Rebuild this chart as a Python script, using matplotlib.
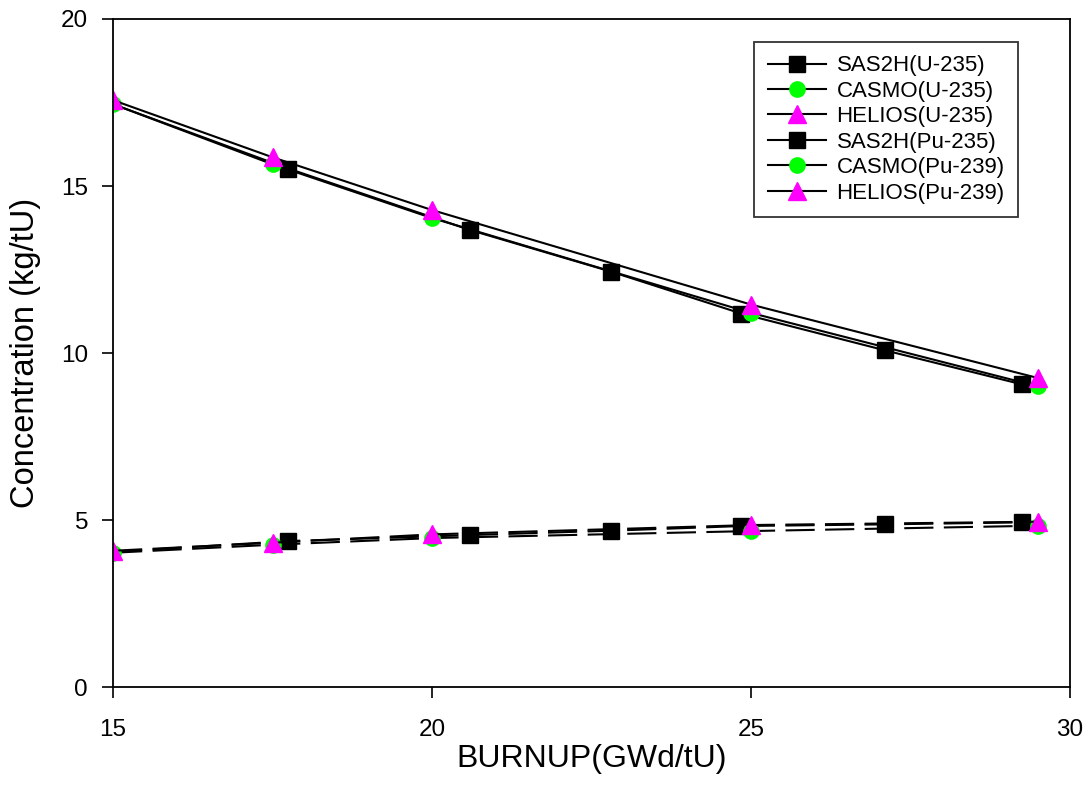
import matplotlib
matplotlib.use("Agg")
import matplotlib.pyplot as plt
from matplotlib.lines import Line2D

plt.rcParams['font.family'] = ['Liberation Sans', 'DejaVu Sans']

# burnup points
sas_x = [15.0, 17.75, 20.6, 22.8, 24.85, 27.1, 29.25]
code_x = [15.0, 17.5, 20.0, 25.0, 29.5]

# U-235
sas_u = [17.45, 15.52, 13.68, 12.44, 11.18, 10.08, 9.06]
casmo_u = [17.45, 15.65, 14.04, 11.2, 9.0]
helios_u = [17.57, 15.86, 14.28, 11.45, 9.25]

# Pu
sas_pu = [4.05, 4.37, 4.55, 4.68, 4.82, 4.87, 4.93]
casmo_pu = [4.02, 4.26, 4.46, 4.67, 4.83]
helios_pu = [4.08, 4.32, 4.57, 4.85, 4.95]

labels = ["SAS2H(U-235)", "CASMO(U-235)", "HELIOS(U-235)",
          "SAS2H(Pu-235)", "CASMO(Pu-239)", "HELIOS(Pu-239)"]

fig = plt.figure(figsize=(10.88, 7.85), dpi=100)
ax = fig.add_axes([0.1039, 0.1248, 0.8796, 0.851])

sq = dict(marker='s', color='black', markerfacecolor='black', markeredgecolor='black', markersize=11)
ci = dict(marker='o', color='black', markerfacecolor='#00ff00', markeredgecolor='#00ff00', markersize=11)
tr = dict(marker='^', color='black', markerfacecolor='#ff00ff', markeredgecolor='#ff00ff', markersize=13)

# the SAS2H square at 15 GWd/tU is not shown in the original
sas_marks = list(range(1, len(sas_x)))
ax.plot(sas_x, sas_u, lw=1.5, markevery=sas_marks, **sq)
ax.plot(code_x, casmo_u, lw=1.5, **ci)
ax.plot(code_x, helios_u, lw=1.5, **tr)
ax.plot(sas_x, sas_pu, lw=1.5, dashes=(14, 5), markevery=sas_marks, **sq)
ax.plot(code_x, casmo_pu, lw=1.5, dashes=(14, 5), **ci)
ax.plot(code_x, helios_pu, lw=1.5, dashes=(14, 5), **tr)

ax.set_xlim(15, 30)
ax.set_ylim(0, 20)
ax.set_xticks([15, 20, 25, 30])
ax.set_yticks([0, 5, 10, 15, 20])
ax.tick_params(direction='out', length=8, width=1.2, labelsize=17.5)
ax.tick_params(axis='x', pad=15)
ax.tick_params(axis='y', pad=10)
for s in ax.spines.values():
    s.set_linewidth(1.3)

ax.set_xlabel("BURNUP(GWd/tU)", fontsize=23, labelpad=2)
ax.set_ylabel("Concentration (kg/tU)", fontsize=23.5, labelpad=14)

styles = [sq, ci, tr, sq, ci, tr]
handles = [Line2D([], [], lw=1.5, **s) for s in styles]
leg = ax.legend(handles, labels, loc='upper right', bbox_to_anchor=(0.9457, 0.9656),
                fontsize=16, frameon=True, fancybox=False, edgecolor='black',
                handlelength=2.6, labelspacing=0.2, borderpad=0.6, handletextpad=0.5,
                borderaxespad=0)
leg.get_frame().set_linewidth(1.3)

fig.savefig("out.png", dpi=100)
